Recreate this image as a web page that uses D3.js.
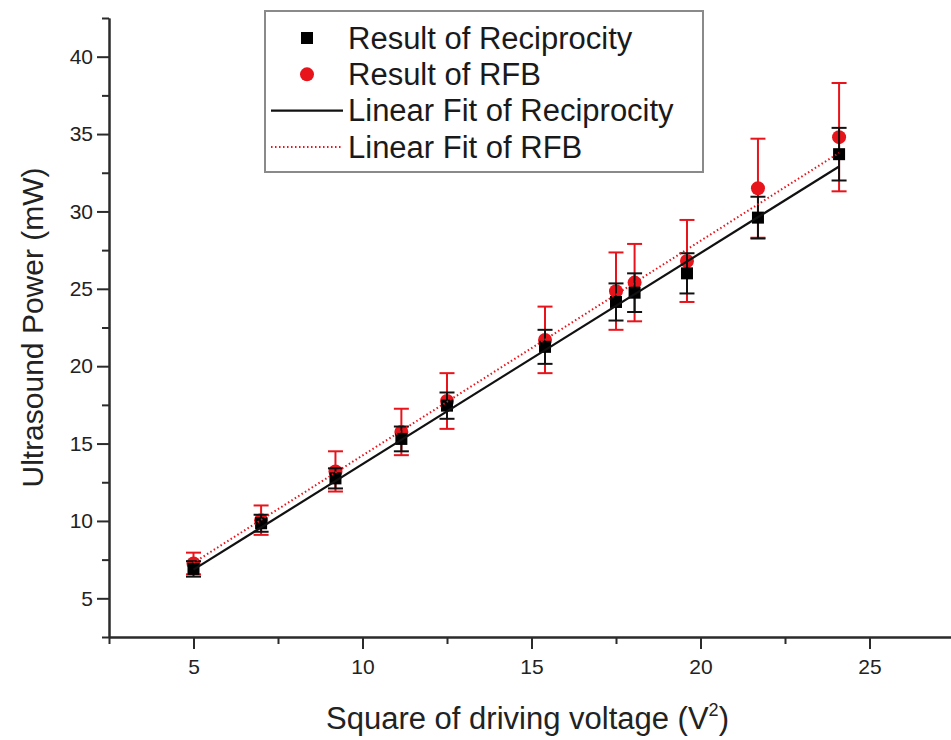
<!DOCTYPE html>
<html>
<head>
<meta charset="utf-8">
<script src="https://cdn.jsdelivr.net/npm/d3@7"></script>
<style>
  body { margin: 0; background: #fff; }
  svg { display: block; font-family: "Liberation Sans", Arial, sans-serif; }
</style>
</head>
<body>
<div id="chart"></div>
<script>
// values
var voltageSq = [5.0, 7.0, 9.2, 11.15, 12.5, 15.4, 17.5, 18.05, 19.6, 21.7, 24.1]
var reciprocity = [6.9, 9.85, 12.75, 15.3, 17.45, 21.25, 24.15, 24.75, 26.0, 29.6, 33.7]
var reciprocityErr = [0.5, 0.55, 0.65, 0.8, 0.85, 1.1, 1.2, 1.25, 1.3, 1.35, 1.7]
var rfb = [7.25, 10.05, 13.2, 15.75, 17.75, 21.7, 24.85, 25.4, 26.8, 31.5, 34.8]
var rfbErr = [0.7, 0.95, 1.3, 1.5, 1.8, 2.15, 2.5, 2.5, 2.65, 3.2, 3.5]
// linear fits [intercept, slope]
var fitReciprocity = [0.03, 1.364]
var fitRfb = [0.36, 1.387]

var xMajor = [5, 10, 15, 20, 25]
var xMinor = [2.5, 7.5, 12.5, 17.5, 22.5, 27.5]
var yMajor = [5, 10, 15, 20, 25, 30, 35, 40]
var yMinor = [2.5, 7.5, 12.5, 17.5, 22.5, 27.5, 32.5, 37.5, 42.5]

var legendItems = ["Result of Reciprocity", "Result of RFB", "Linear Fit of Reciprocity", "Linear Fit of RFB"]

var red = "#e8141b"
var axisCol = "#2b2b2b"

var W = 951, H = 740
var svg = d3.select("#chart").append("svg").attr("width", W).attr("height", H)

var x = d3.scaleLinear().domain([2.5, 27.5]).range([109, 954])
var y = d3.scaleLinear().domain([2.5, 42.5]).range([637, 18])

// axes
var yAxis = svg.append("g").attr("transform", "translate(" + x(2.5) + ",0)")
yAxis.call(d3.axisLeft(y).tickValues(yMinor).tickSize(7).tickSizeOuter(0).tickFormat(""))
yAxis.append("g").call(d3.axisLeft(y).tickValues(yMajor).tickSize(12).tickSizeOuter(0).tickPadding(4))
yAxis.selectAll("path, line").attr("stroke", axisCol).attr("stroke-width", 2)
yAxis.selectAll("text").attr("font-size", 21).attr("fill", "#222").attr("font-family", "Liberation Sans, Arial, sans-serif")

var xAxis = svg.append("g").attr("transform", "translate(0," + y(2.5) + ")")
xAxis.call(d3.axisBottom(x).tickValues(xMinor).tickSize(7).tickSizeOuter(0).tickFormat(""))
xAxis.append("g").call(d3.axisBottom(x).tickValues(xMajor).tickSize(12).tickSizeOuter(0).tickPadding(10))
xAxis.selectAll("path, line").attr("stroke", axisCol).attr("stroke-width", 2)
xAxis.selectAll("text").attr("font-size", 21).attr("fill", "#222").attr("font-family", "Liberation Sans, Arial, sans-serif")

// axis titles
svg.append("text")
  .attr("transform", "translate(32," + ((y(2.5) + y(42.5)) / 2) + ") rotate(-90)")
  .attr("text-anchor", "middle").attr("dominant-baseline", "central")
  .attr("font-size", 30).attr("fill", "#222")
  .text("Ultrasound Power (mW)")

var xt = svg.append("text")
  .attr("x", x(15) - 4).attr("y", 729)
  .attr("text-anchor", "middle")
  .attr("font-size", 31).attr("fill", "#222")
xt.append("tspan").text("Square of driving voltage (V")
xt.append("tspan").attr("font-size", 18).attr("dy", -13).text("2")
xt.append("tspan").attr("dy", 13).text(")")

// error bars + points
function errorBars(vals, errs, col, cap) {
  var g = svg.append("g").attr("stroke", col).attr("stroke-width", 2)
  voltageSq.forEach(function(v, i) {
    var top = y(vals[i] + errs[i]), bot = y(vals[i] - errs[i])
    g.append("line").attr("x1", x(v)).attr("x2", x(v)).attr("y1", top).attr("y2", bot)
    g.append("line").attr("x1", x(v) - cap).attr("x2", x(v) + cap).attr("y1", top).attr("y2", top)
    g.append("line").attr("x1", x(v) - cap).attr("x2", x(v) + cap).attr("y1", bot).attr("y2", bot)
  })
}

errorBars(rfb, rfbErr, red, 7.5)
svg.append("g").selectAll("circle").data(voltageSq).enter().append("circle")
  .attr("cx", function(d) { return x(d) })
  .attr("cy", function(d, i) { return y(rfb[i]) })
  .attr("r", 7).attr("fill", red)

errorBars(reciprocity, reciprocityErr, "#111", 7.5)
svg.append("g").selectAll("rect").data(voltageSq).enter().append("rect")
  .attr("x", function(d) { return x(d) - 6 })
  .attr("y", function(d, i) { return y(reciprocity[i]) - 6 })
  .attr("width", 12).attr("height", 12).attr("fill", "#000")

// fit lines over the data range
var xr = d3.extent(voltageSq)
var line = d3.line().x(function(d) { return x(d[0]) }).y(function(d) { return y(d[1]) })
svg.append("path")
  .datum(xr.map(function(v) { return [v, fitReciprocity[0] + fitReciprocity[1] * v] }))
  .attr("d", line).attr("stroke", "#111").attr("stroke-width", 2.2).attr("fill", "none")
svg.append("path")
  .datum(xr.map(function(v) { return [v, fitRfb[0] + fitRfb[1] * v] }))
  .attr("d", line).attr("stroke", red).attr("stroke-width", 2).attr("stroke-dasharray", "1.5,2.5").attr("fill", "none")

// legend
var lg = svg.append("g")
lg.append("rect").attr("x", 265).attr("y", 11).attr("width", 438).attr("height", 161)
  .attr("fill", "#fff").attr("stroke", "#8a8a8a").attr("stroke-width", 2)
var rowY = d3.scalePoint().domain(legendItems).range([38, 147])
lg.selectAll("text.leg").data(legendItems).enter().append("text").attr("class", "leg")
  .attr("x", 348).attr("y", function(d) { return rowY(d) })
  .attr("dominant-baseline", "central")
  .attr("font-size", 31).attr("fill", "#1a1a1a")
  .text(function(d) { return d })
lg.append("rect").attr("x", 301).attr("y", rowY(legendItems[0]) - 6).attr("width", 12).attr("height", 12).attr("fill", "#000")
lg.append("circle").attr("cx", 307).attr("cy", rowY(legendItems[1])).attr("r", 7).attr("fill", red)
lg.append("line").attr("x1", 271).attr("x2", 343).attr("y1", rowY(legendItems[2])).attr("y2", rowY(legendItems[2]))
  .attr("stroke", "#111").attr("stroke-width", 2.2)
lg.append("line").attr("x1", 271).attr("x2", 341).attr("y1", rowY(legendItems[3])).attr("y2", rowY(legendItems[3]))
  .attr("stroke", red).attr("stroke-width", 2).attr("stroke-dasharray", "1.5,2.5")
</script>
</body>
</html>
